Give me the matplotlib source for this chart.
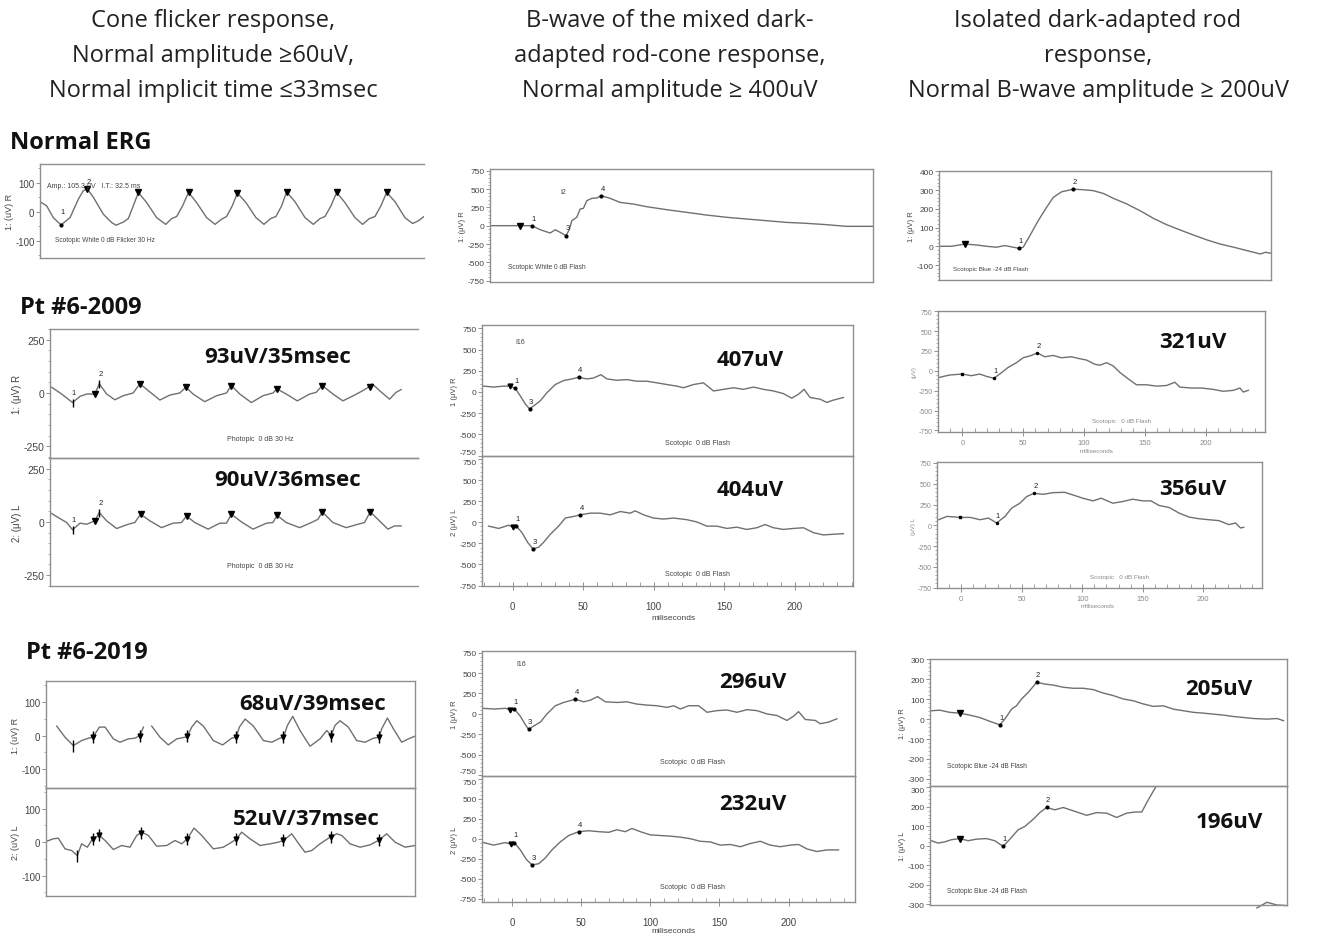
import numpy as np
import matplotlib.pyplot as plt
from matplotlib.ticker import MultipleLocator

plt.rcParams['font.family'] = ['Liberation Sans', 'DejaVu Sans']
plt.rcParams['axes.unicode_minus'] = False

# ---- traces: time in ms, amplitude in uV ----
# Normal ERG
a1_t = [0, 4.4, 8.9, 14.0, 20.0, 25.6, 28.9, 31.6, 35.6, 42.2, 47.8, 50.7, 55.6, 58.9, 62.2, 65.6,
        71.1, 77.8, 83.8, 87.8, 91.1, 95.1, 99.0, 104.4, 111.1, 116.7, 121.1, 124.4, 128.2, 131.6,
        137.3, 144.0, 149.3, 153.8, 157.3, 161.1, 164.4, 170.0, 176.7, 182.2, 186.7, 190.0, 194.0,
        197.8, 203.3, 210.0, 215.1, 219.6, 223.3, 227.3, 231.1, 236.7, 243.3, 248.4, 252.2, 256.0]
a1_v = [35, 21, -20, -45, -20, 44, 73, 79, 50, -8, -37, -46, -35, -23, 21, 67,
        32, -20, -43, -23, -16, 21, 67, 32, -20, -43, -25, -16, 21, 65,
        32, -20, -43, -23, -16, 21, 69, 35, -20, -43, -23, -16, 21,
        67, 32, -20, -43, -23, -16, 21, 67, 35, -20, -40, -31, -16]
a1_marks = [31.6, 65.6, 99.0, 131.6, 164.4, 197.8, 231.1]

b1_t = [-22.3, -1.2, 7.0, 12.9, 20.0, 23.5, 27.0, 31.2, 33.6, 35.2, 38.7, 41.1, 43.4, 45.8, 49.3,
        52.8, 55.9, 62.2, 69.2, 78.6, 88.0, 102.1, 116.2, 130.3, 144.6, 158.5, 172.5, 186.6,
        200.7, 214.8, 228.9, 247.7]
b1_v = [0, 0, 0, -55, -100, -55, -91, -136, -45, 68, 114, 227, 236, 341, 373,
        377, 409, 373, 318, 295, 259, 218, 182, 145, 114, 91, 68, 45, 32, 14, -9, -9]

c1_t = [-23.1, -12.3, 0, 10.8, 20.1, 29.3, 37.0, 44.8, 50.3, 54.0, 60.2, 67.9, 75.6, 81.8, 89.5,
        100.3, 109.6, 118.8, 128.1, 137.3, 149.7, 162.0, 174.4, 186.7, 199.1, 211.4, 223.8,
        236.1, 248.5, 260.8, 273.1, 277.8, 283.0]
c1_v = [0, 0, 12, 7, 0, -5, 4, -5, -11, -5, 57, 137, 208, 261, 291,
        305, 302, 297, 282, 256, 226, 190, 149, 115, 87, 60, 34, 12, -5, -23, -41, -32, -37]

# Pt #6 - 2009
a2_t = [1.2, 8.5, 16.5, 21.9, 26.8, 32.8, 36.0, 41.4, 47.4, 53.5, 60.8, 65.7, 71.8, 80.3, 87.6,
        94.9, 99.3, 104.6, 113.1, 121.7, 129.0, 132.6, 138.7, 147.2, 155.7, 163.0, 165.9, 172.7,
        180.8, 189.8, 194.6, 199.0, 206.8, 214.1, 222.6, 228.7, 233.6, 235.5, 240.9, 248.2,
        253.0, 256.7]
a2_v = [27, -5, -45, -16, -5, -5, 43, -5, -32, -13, 0, 43, 11, -33, -10,
        0, 27, -5, -41, -13, 0, 35, -5, -45, -13, 0, 19, -5,
        -37, -5, 3, 35, -5, -37, -10, 11, 30, 43, 11, -29, 3, 16]
a2_marks = [32.8, 65.7, 99.3, 132.6, 165.9, 199.0, 233.6]

a3_t = [0, 6.1, 12.2, 16.5, 21.9, 26.8, 32.8, 36.0, 41.4, 48.7, 57.2, 62.0, 66.2, 73.0, 81.5,
        90.0, 96.1, 99.8, 105.8, 115.6, 124.1, 129.0, 132.6, 139.9, 148.4, 158.2, 163.0, 165.9,
        172.7, 182.5, 191.0, 195.9, 199.0, 206.8, 216.5, 225.1, 229.9, 234.1, 239.7, 247.0,
        251.8, 256.7]
a3_v = [44, 20, -3, -37, -6, -11, 5, 44, 5, -31, -11, -3, 36, 5, -27,
        -6, -3, 28, -3, -34, -6, -6, 36, 0, -34, -6, -3, 31,
        -3, -27, -3, 12, 47, -3, -27, -11, -3, 47, 12, -34, -19, -19]
a3_marks = [32.8, 66.2, 99.8, 132.6, 165.9, 199.0, 234.1]

b2_t = [-20.5, -13.4, -6.4, -1.7, 1.9, 5.4, 9.0, 12.0, 16.0, 19.6, 24.3, 30.2, 36.1, 42.0, 46.7,
        52.6, 57.3, 62.5, 66.7, 73.8, 80.9, 88.0, 95.0, 102.1, 109.2, 116.3, 121.0, 128.1, 135.1,
        142.2, 149.3, 156.4, 163.4, 170.5, 177.6, 184.7, 191.7, 197.6, 202.4, 206.4, 210.6,
        217.7, 222.4, 227.1, 234.2]
b2_v = [69, 58, 69, 69, 42, -46, -142, -200, -150, -104, -8, 88, 135, 154, 173,
        154, 165, 204, 154, 138, 146, 127, 127, 108, 88, 69, 50, 88, 108,
        12, 31, 50, 31, 58, 31, 12, -19, -73, -27, 31, -65, -85, -123, -96, -65]

b3_t = [-17.0, -9.9, -2.8, 0.2, 2.6, 6.6, 10.6, 14.4, 18.4, 21.9, 26.7, 32.5, 37.3, 43.2, 47.9,
        55.0, 62.0, 69.1, 76.2, 83.3, 86.8, 92.7, 99.8, 106.8, 113.9, 123.3, 130.4, 137.5, 144.6,
        151.7, 158.7, 165.8, 172.9, 178.8, 184.7, 191.7, 198.8, 205.9, 213.0, 220.0, 227.1, 234.2]
b3_v = [-46, -73, -35, -60, -46, -123, -238, -315, -296, -238, -142, -46, 50, 69, 88,
        108, 108, 88, 127, 108, 135, 88, 50, 38, 50, 31, 4, -46, -46,
        -73, -58, -85, -65, -27, -65, -85, -73, -65, -123, -150, -142, -135]

c2_t = [-18.6, -10.4, 0, 7.4, 14.2, 19.7, 25.8, 30.7, 37.5, 44.4, 49.9, 56.7, 61.6, 67.7, 74.5,
        81.4, 89.6, 96.4, 101.9, 108.8, 112.9, 118.4, 123.8, 129.3, 136.2, 143.0, 151.2, 159.5,
        167.7, 174.5, 178.6, 188.2, 196.4, 206.0, 214.2, 222.5, 227.9, 230.7, 234.8]
c2_v = [-82, -53, -41, -62, -41, -70, -94, -41, 41, 102, 164, 193, 225, 176, 193,
        164, 176, 152, 135, 82, 70, 102, 62, -20, -102, -176, -176, -193,
        -185, -144, -205, -217, -217, -234, -258, -246, -217, -267, -246]

c3_t = [-18.6, -11.8, -0.8, 7.4, 15.6, 22.5, 29.3, 36.2, 41.6, 48.5, 54.0, 60.0, 67.7, 75.9, 85.5,
        92.3, 100.5, 108.8, 115.6, 125.2, 133.4, 141.6, 149.9, 156.7, 163.6, 171.8, 180.0, 188.2,
        196.4, 204.7, 212.9, 221.1, 226.6, 230.7, 233.4]
c3_v = [67, 107, 95, 95, 67, 87, 28, 107, 206, 266, 345, 385, 373, 393, 397,
        365, 326, 294, 326, 266, 286, 314, 294, 294, 238, 214, 147, 99,
        79, 67, 56, 8, 28, -32, -24]

# Pt #6 - 2019
a4_t = [7.5, 13.3, 19.1, 24.9, 29.6, 32.9, 37.3, 41.3, 47.1, 51.7, 57.6, 62.2, 65.7, 68.1, np.nan,
        73.9, 79.7, 85.5, 91.4, 97.2, 98.8, 101.9, 105.4, 110.0, 117.0, 123.5, 129.8, 132.9, 135.2,
        139.2, 145.0, 152.0, 157.8, 163.6, 166.0, 168.8, 172.5, 177.6, 184.6, 191.6, 196.3, 199.3,
        202.1, 205.6, 211.4, 217.2, 223.1, 228.9, 232.9, 234.7, 238.7, 242.9, 248.7, 253.4, 258.0]
a4_v = [28, -5, -30, -15, -8, -5, 25, 25, -10, -20, -10, -8, 0, 25, np.nan,
        28, -5, -28, -10, -5, -2, 25, 44, 28, -15, -28, -8, -5, 25,
        49, 28, -15, -20, -8, -5, 30, 57, 15, -32, -10, 15, 0,
        30, 44, 25, -15, -20, -8, -5, 20, 52, 20, -20, -10, -2]
a4_marks = [19.1, 32.9, 65.7, 98.8, 132.9, 166.0, 199.3, 232.9]

a5_t = [0, 5.1, 8.6, 13.3, 17.9, 21.9, 24.9, 28.9, 32.6, 37.3, 41.3, 47.1, 52.9, 58.7, 63.4,
        66.9, 71.6, 77.4, 84.4, 90.2, 94.9, 98.8, 103.5, 108.9, 117.0, 124.0, 129.8, 133.3, 136.8,
        142.7, 149.7, 156.6, 162.5, 166.0, 171.8, 177.6, 181.1, 185.8, 191.6, 198.6, 203.3, 206.8,
        212.6, 219.6, 226.6, 232.4, 238.2, 244.1, 251.1, 258.0]
a5_v = [2, 10, 12, -20, -25, -40, -5, -15, 10, 20, 5, -22, -10, -15, 20,
        30, 20, -12, -10, 5, -5, 10, 42, 20, -20, -15, 0, 10, 30,
        10, -10, -5, 0, 5, 25, -10, -30, -25, -5, 15, 25, 20,
        -5, -15, -8, 5, 25, 0, -15, -10]
a5_marks = [21.9, 32.6, 37.3, 66.2, 98.8, 132.9, 166.0, 199.3, 232.9]

b4_t = [-20.5, -13.3, -4.8, -1.2, 1.7, 6.0, 9.6, 12.0, 15.7, 20.5, 25.3, 31.3, 37.3, 45.8, 51.8,
        56.6, 61.9, 67.5, 75.9, 83.1, 90.4, 97.6, 104.8, 112.0, 116.9, 121.7, 127.7, 134.9, 141.0,
        148.2, 155.4, 162.7, 169.9, 177.1, 184.3, 191.6, 198.8, 203.6, 207.2, 212.0, 219.3,
        222.9, 228.9, 234.9]
b4_v = [68, 60, 68, 52, 60, -28, -132, -188, -148, -100, 0, 100, 140, 180, 148,
        168, 212, 148, 140, 148, 120, 108, 100, 80, 100, 60, 100, 100, 20,
        40, 48, 20, 52, 40, 0, -20, -80, -28, 28, -68, -80, -120, -100, -60]

b5_t = [-20.5, -13.3, -4.8, -0.7, 1.7, 6.0, 10.4, 14.5, 19.3, 24.1, 28.9, 34.9, 41.0, 48.2, 55.4,
        62.7, 69.9, 75.9, 81.9, 86.7, 92.8, 100.0, 107.2, 114.5, 121.7, 128.9, 136.1, 143.4,
        150.6, 157.8, 165.1, 172.3, 179.5, 186.7, 194.0, 201.2, 207.2, 213.3, 220.5, 227.7, 236.1]
b5_v = [-48, -80, -48, -70, -48, -140, -260, -328, -312, -240, -140, -40, 40, 88, 100,
        88, 80, 112, 88, 128, 88, 48, 40, 32, 20, 0, -32, -40,
        -80, -72, -100, -60, -32, -80, -100, -80, -72, -128, -160, -140, -140]

c4_t = [-25.8, -18.2, -9.1, 0, 9.1, 18.2, 25.8, 31.8, 36.4, 40.9, 47.0, 51.5, 56.1, 62.1, 67.3,
        69.7, 77.3, 84.8, 93.9, 103.0, 112.1, 121.2, 130.3, 139.4, 148.5, 157.6, 166.7, 175.8,
        184.8, 193.9, 203.0, 212.1, 221.2, 230.3, 239.4, 248.5, 257.6, 266.7, 278.8, 287.9, 293.9]
c4_v = [42, 45, 34, 30, 20, 8, -8, -20, -29, 0, 50, 67, 101, 134, 168,
        185, 176, 171, 160, 155, 155, 148, 131, 118, 101, 92, 76, 64,
        67, 50, 42, 34, 30, 25, 20, 13, 8, 3, 0, 3, -8]

c5_t = [-25.8, -19.7, -13.6, -7.6, 0, 7.6, 15.2, 24.2, 31.8, 39.4, 45.5, 53.0, 59.1, 66.7, 72.7,
        78.8, 86.4, 93.9, 103.0, 115.2, 124.2, 133.3, 142.4, 151.5, 159.1, 165.2, 169.7, 175.8, 180.3]
c5_v = [26, 14, 20, 31, 37, 26, 34, 37, 26, -3, 34, 82, 99, 136, 170,
        196, 184, 196, 179, 156, 170, 167, 145, 167, 173, 173, 221, 281, 323]
c5_tail_t = [269.7, 278.8, 287.9, 297.0]
c5_tail_v = [-318, -289, -303, -306]

headers = [
    (213, ["Cone flicker response,", "Normal amplitude \u226560uV,", "Normal implicit time \u226433msec"]),
    (670, ["B-wave of the mixed dark-", "adapted rod-cone response,", "Normal amplitude \u2265 400uV"]),
    (1098, ["Isolated dark-adapted rod", "response,", "Normal B-wave amplitude \u2265 200uV"]),
]
rows = [("Normal ERG", 10, 143), ("Pt #6-2009", 20, 308), ("Pt #6-2019", 26, 653)]
values = [("93uV/35msec", 278, 358), ("90uV/36msec", 288, 481), ("407uV", 750, 361),
          ("404uV", 750, 491), ("321uV", 1193, 343), ("356uV", 1193, 490),
          ("68uV/39msec", 313, 705), ("52uV/37msec", 306, 820), ("296uV", 753, 683),
          ("232uV", 753, 805), ("205uV", 1219, 690), ("196uV", 1229, 822)]

# ---- figure ----
W, H = 1322, 937
TRACE = '#707070'
FRAME = '#8f8f8f'
TXT = '#444444'
FAINT = '#8a8a8a'

fig = plt.figure(figsize=(W / 100, H / 100), dpi=100)


def px(x, y):
    return x / W, 1 - y / H


def panel(box, t, v, xlim, ylim, yticks, ystep, ylabel, right=True, lab_color=TXT, lab_size=6.5):
    x0, x1, y0, y1 = box
    ax = fig.add_axes([x0 / W, 1 - y1 / H, (x1 - x0) / W, (y1 - y0) / H])
    ax.patch.set_alpha(0)
    ax.plot(t, v, color=TRACE, lw=1.0)
    ax.set_xlim(xlim)
    ax.set_ylim(ylim)
    ax.set_xticks([])
    ax.set_yticks(yticks)
    ax.yaxis.set_minor_locator(MultipleLocator(ystep))
    ax.tick_params(axis='y', which='major', length=3, width=0.7, color=FRAME,
                   labelsize=lab_size, labelcolor=lab_color, pad=1)
    ax.tick_params(axis='y', which='minor', length=1.5, width=0.5, color=FRAME)
    for s in ax.spines.values():
        s.set_color(FRAME)
        s.set_linewidth(1.0)
    ax.spines['right'].set_visible(right)
    ax.set_ylabel(ylabel, fontsize=lab_size - 0.5, color=lab_color, labelpad=1)
    return ax


def squeeze_edges(ax, bottom=False, top=False):
    # stacked panels: keep the -750 / 750 labels from running into each other
    ticks = ax.yaxis.get_major_ticks()
    if bottom:
        ticks[0].label1.set_verticalalignment('bottom')
    if top:
        ticks[-1].label1.set_verticalalignment('top')


def marks(ax, t, v, times, labels, marker='v', ms=4, dy=0):
    t = np.asarray(t, float)
    v = np.asarray(v, float)
    ok = ~np.isnan(v)
    for tm, lab in zip(times, labels):
        y = np.interp(tm, t[ok], v[ok])
        ax.plot([tm], [y], marker=marker, ms=ms, color='k', ls='none', clip_on=False)
        if lab:
            ax.annotate(lab, (tm, y), xytext=(1, 3 + dy), textcoords='offset points',
                        fontsize=5.5, ha='center', va='bottom', color='#222')


def xaxis_ms(ax, size, color, pad):
    ax.set_xticks([0, 50, 100, 150, 200])
    ax.xaxis.set_minor_locator(MultipleLocator(10))
    ax.tick_params(axis='x', which='major', direction='inout', length=6, width=0.7,
                   color=FRAME, labelsize=size, labelcolor=color, pad=pad)
    ax.tick_params(axis='x', which='minor', direction='in', length=3, width=0.6, color=FRAME)


uv750 = [-750, -500, -250, 0, 250, 500, 750]
uv300 = [-300, -200, -100, 0, 100, 200, 300]

# Normal ERG
ax = panel((40, 424, 165, 259), a1_t, a1_v, (0, 256), (-159, 165), [-100, 0, 100], 50,
           "1: (uV) R", right=False, lab_size=7)
marks(ax, a1_t, a1_v, a1_marks, ["2", "", "", "", "", "", ""], ms=5)
marks(ax, a1_t, a1_v, [14.0], ["1"], marker='o', ms=2, dy=4)

ax = panel((490, 873, 170, 283), b1_t, b1_v, (-22.5, 247.7), (-768, 773),
           uv750, 50, "1: (\u03bcV) R", lab_size=6)
marks(ax, b1_t, b1_v, [-1.2], [""], ms=4)
marks(ax, b1_t, b1_v, [7.0, 31.2, 55.9], ["1", "3", "4"], marker='o', ms=2)

ax = panel((939, 1271, 172, 281), c1_t, c1_v, (-23.8, 283), (-180, 402),
           [-100, 0, 100, 200, 300, 400], 20, "1: (\u03bcV) R", lab_size=6)
marks(ax, c1_t, c1_v, [0], [""], ms=4)
marks(ax, c1_t, c1_v, [50.3, 100.3], ["1", "2"], marker='o', ms=2)

# Pt #6-2009
ax = panel((50, 418, 330, 459), a2_t, a2_v, (0, 269), (-305, 300), [-250, 0, 250], 50,
           "1: (\u03bcV) R", right=False, lab_size=7.5)
marks(ax, a2_t, a2_v, a2_marks, [""] * len(a2_marks), ms=4.5)
marks(ax, a2_t, a2_v, [16.5, 36.0], ["1", "2"], marker='|', ms=6, dy=2)

ax = panel((50, 418, 459, 587), a3_t, a3_v, (0, 269), (-301, 300), [-250, 0, 250], 50,
           "2: (\u03bcV) L", right=False, lab_size=7.5)
marks(ax, a3_t, a3_v, a3_marks, [""] * len(a3_marks), ms=4.5)
marks(ax, a3_t, a3_v, [16.5, 36.0], ["1", "2"], marker='|', ms=6, dy=2)

ax = panel((482, 853, 326, 457), b2_t, b2_v, (-21.7, 241), (-755, 790),
           uv750, 50, "1 (\u03bcV) R", lab_size=6)
squeeze_edges(ax, bottom=True)
marks(ax, b2_t, b2_v, [-1.7], [""], ms=3.5)
marks(ax, b2_t, b2_v, [1.9, 12.0, 46.7], ["1", "3", "4"], marker='o', ms=2)

ax = panel((482, 853, 457, 587), b3_t, b3_v, (-21.7, 241), (-755, 785),
           uv750, 50, "2 (\u03bcV) L", lab_size=6)
squeeze_edges(ax, top=True)
marks(ax, b3_t, b3_v, [0.2], [""], ms=3.5)
marks(ax, b3_t, b3_v, [2.6, 14.4, 47.9], ["1", "3", "4"], marker='o', ms=2)
xaxis_ms(ax, 7, TXT, 8)

ax = panel((938, 1265, 312, 433), c2_t, c2_v, (-20, 248.5), (-770, 752),
           uv750, 50, "(\u03bcV)", lab_color=FAINT, lab_size=5)
marks(ax, c2_t, c2_v, [0], [""], marker='s', ms=2)
marks(ax, c2_t, c2_v, [25.8, 61.6], ["1", "2"], marker='o', ms=1.5)
xaxis_ms(ax, 5.5, FAINT, 2)

ax = panel((937, 1262, 463, 589), c3_t, c3_v, (-20, 248.5), (-755, 762),
           uv750, 50, "(\u03bcV) L", lab_color=FAINT, lab_size=5)
marks(ax, c3_t, c3_v, [-0.8], [""], marker='s', ms=2)
marks(ax, c3_t, c3_v, [29.3, 60.0], ["1", "2"], marker='o', ms=1.5)
xaxis_ms(ax, 5.5, FAINT, 2)

# Pt #6-2019
ax = panel((46, 415, 682, 789), a4_t, a4_v, (0, 258), (-156, 162), [-100, 0, 100], 50,
           "1: (uV) R", lab_size=7)
marks(ax, a4_t, a4_v, a4_marks, [""] * len(a4_marks), marker='|', ms=9)
marks(ax, a4_t, a4_v, a4_marks[1:], [""] * (len(a4_marks) - 1), marker='v', ms=3.5)

ax = panel((46, 415, 789, 897), a5_t, a5_v, (0, 258), (-161, 162), [-100, 0, 100], 50,
           "2: (uV) L", lab_size=7)
marks(ax, a5_t, a5_v, a5_marks, [""] * len(a5_marks), marker='|', ms=9)
marks(ax, a5_t, a5_v, a5_marks[1:], [""] * (len(a5_marks) - 1), marker='v', ms=3.5)

ax = panel((482, 855, 652, 777), b4_t, b4_v, (-21.7, 248), (-760, 770),
           uv750, 50, "1 (\u03bcV) R", lab_size=6)
squeeze_edges(ax, bottom=True)
marks(ax, b4_t, b4_v, [-1.2], [""], ms=3.5)
marks(ax, b4_t, b4_v, [1.7, 12.0, 45.8], ["1", "3", "4"], marker='o', ms=2)

ax = panel((482, 855, 777, 903), b5_t, b5_v, (-21.7, 248), (-791, 784),
           uv750, 50, "2 (\u03bcV) L", lab_size=6)
squeeze_edges(ax, top=True)
marks(ax, b5_t, b5_v, [-0.7], [""], ms=3.5)
marks(ax, b5_t, b5_v, [1.7, 14.5, 48.2], ["1", "3", "4"], marker='o', ms=2)
xaxis_ms(ax, 7, TXT, 8)

ax = panel((930, 1287, 660, 787), c4_t, c4_v, (-27, 297), (-336, 302),
           uv300, 20, "1: (\u03bcV) R", lab_size=6)
marks(ax, c4_t, c4_v, [0], [""], ms=4)
marks(ax, c4_t, c4_v, [36.4, 69.7], ["1", "2"], marker='o', ms=2)

ax = panel((930, 1287, 787, 906), c5_t, c5_v, (-27, 297), (-303, 306),
           uv300, 20, "1: (\u03bcV) L", lab_size=6)
squeeze_edges(ax, top=True)
ax.plot(c5_tail_t, c5_tail_v, color=TRACE, lw=1.0, clip_on=False)
marks(ax, c5_t, c5_v, [0], [""], ms=4)
marks(ax, c5_t, c5_v, [39.4, 78.8], ["1", "2"], marker='o', ms=2)

# ---- texts ----
for cx, lines in headers:
    for i, line in enumerate(lines):
        fig.text(*px(cx, 21 + 35 * i), line, ha='center', va='center', fontsize=17,
                 color='#222222', family=['Open Sans', 'DejaVu Sans'])

for label, x, y in rows:
    fig.text(*px(x, y), label, ha='left', va='center', fontsize=17, fontweight='bold',
             color='#111111', family=['Open Sans', 'DejaVu Sans'])

for label, x, y in values:
    fig.text(*px(x, y), label, ha='center', va='center', fontsize=16, fontweight='bold',
             color='#111111', family=['Open Sans', 'DejaVu Sans'])

small = [
    ("Amp.: 105.3 \u03bcV   I.T.: 32.5 ms", 47, 187, 'left', 5, TXT),
    ("Scotopic White 0 dB Flicker 30 Hz", 55, 241, 'left', 4.8, TXT),
    ("Photopic  0 dB 30 Hz", 260, 440, 'center', 5, TXT),
    ("Photopic  0 dB 30 Hz", 260, 567, 'center', 5, TXT),
    ("I2", 563, 192, 'center', 5, TXT),
    ("Scotopic White 0 dB Flash", 508, 268, 'left', 4.8, TXT),
    ("Scotopic Blue -24 dB Flash", 953, 269, 'left', 4.5, TXT),
    ("I16", 520, 342, 'center', 5, TXT),
    ("Scotopic  0 dB Flash", 697, 444, 'center', 5, TXT),
    ("Scotopic  0 dB Flash", 697, 574, 'center', 5, TXT),
    ("miliseconds", 673, 619, 'center', 6, TXT),
    ("Scotopic   0 dB Flash", 1122, 422, 'center', 4.5, FAINT),
    ("Scotopic   0 dB Flash", 1120, 577, 'center', 4.5, FAINT),
    ("milliseconds", 1097, 452, 'center', 4.5, FAINT),
    ("milliseconds", 1098, 607, 'center', 4.5, FAINT),
    ("I16", 521, 665, 'center', 5, TXT),
    ("Scotopic  0 dB Flash", 693, 763, 'center', 5, TXT),
    ("Scotopic  0 dB Flash", 693, 888, 'center', 5, TXT),
    ("miliseconds", 673, 932, 'center', 6, TXT),
    ("Scotopic Blue -24 dB Flash", 947, 767, 'left', 4.8, TXT),
    ("Scotopic Blue -24 dB Flash", 947, 892, 'left', 4.8, TXT),
]
for s, x, y, ha, size, col in small:
    fig.text(*px(x, y), s, ha=ha, va='center', fontsize=size, color=col)

fig.savefig("out.png", dpi=100, facecolor='white')
